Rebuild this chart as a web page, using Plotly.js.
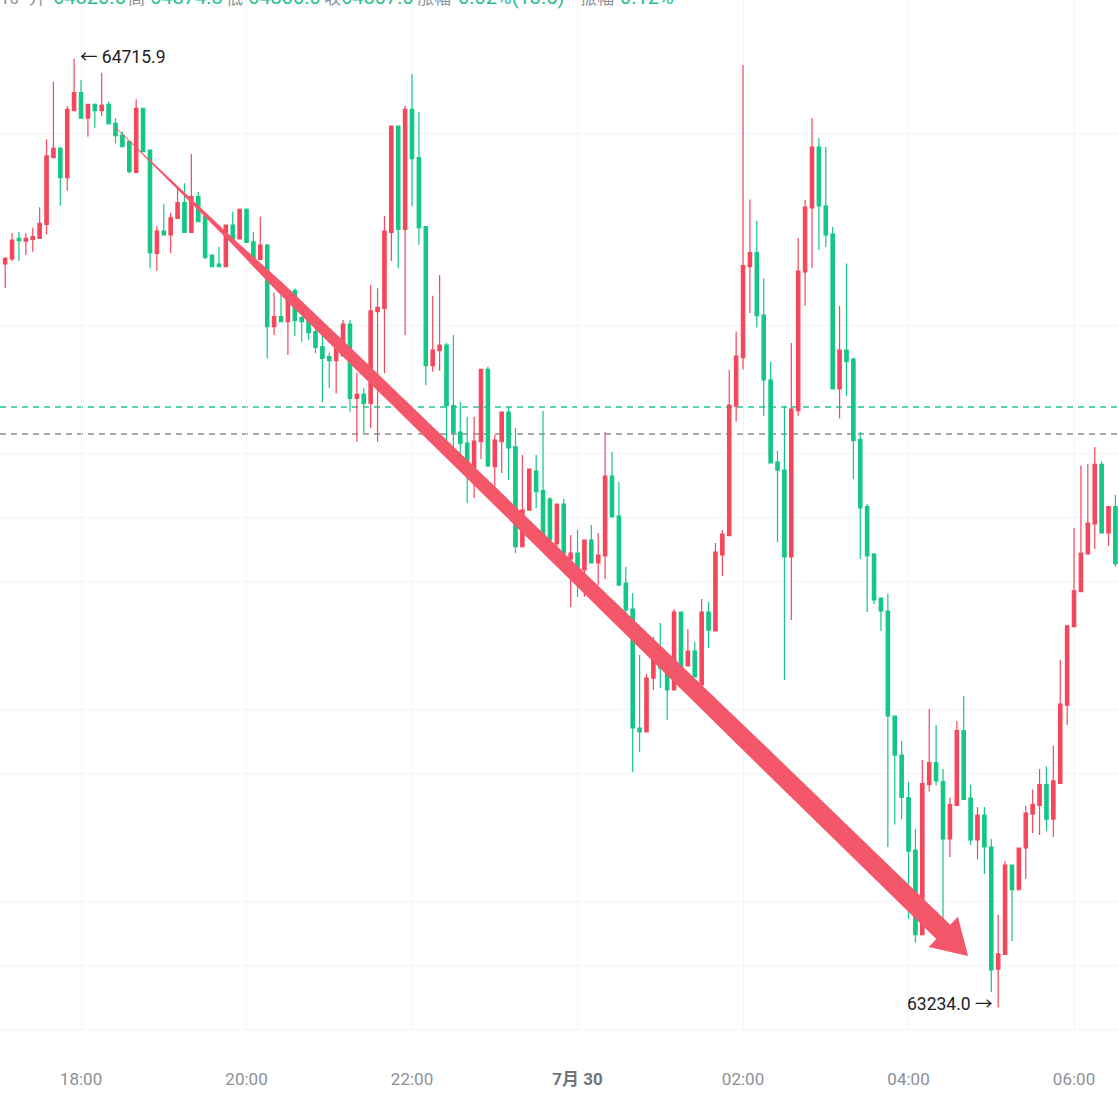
<!DOCTYPE html>
<html><head><meta charset="utf-8">
<script src="https://cdn.plot.ly/plotly-3.0.1.min.js"></script>
<style>html,body{margin:0;padding:0;background:#fff;overflow:hidden}#chart{width:1119px;height:1095px}</style>
</head><body><div id="chart"></div>
<script>
// ---- data (5-minute candles, 17:05 -> 06:30) ----
const startTime = '2024-07-29 17:05';
const intervalMin = 5;
const open = [64395.3,64403.1,64435.5,64431.2,64433.9,64435.5,64457.3,64561.4,64576.1,64530.1,64634.8,
64663.0,64623.0,64644.8,64634.8,64644.8,64615.1,64596.9,64586.4,64538.6,64638.6,64573.4,64412.0,64446.9,64440.6,64466.7,64491.1,64444.8,64500.5,64469.2,64409.4,64395.3,64391.1,64456.2,64434.4,64480.8,64430.1,64402.6,64425.0,
64297.3,64313.0,64305.1,64353.6,64312.0,64306.2,64289.5,64266.1,64250.5,64244.2,64251.6,64301.6,64185.5,64191.7,64177.6,64320.8,64326.1,64444.8,64610.9,64449.5,64637.0,64561.4,64453.6,64236.4,64259.8,
64268.7,64173.9,64132.8,64115.6,64077.6,64117.6,64230.8,64078.6,64117.6,64164.1,64109.8,63953.6,64010.9,64071.9,64041.1,64028.1,63957.8,64020.3,63934.4,63943.7,63917.2,63964.1,63928.1,63939.1,64064.1,64001.6,
63896.9,63856.2,63670.3,63664.1,63748.4,63781.2,63764.1,63729.7,63851.6,63767.2,63790.6,63737.5,63851.6,63821.9,63940.6,63970.9,64173.4,64249.1,64391.1,64413.3,64315.6,64214.1,64085.9,64073.4,63937.5,64166.2,
64382.8,64482.8,64578.1,64485.9,64442.2,64200.0,64260.9,64246.9,64121.1,64016.1,63942.2,63873.4,63853.1,63689.1,63628.1,63561.7,63479.7,63347.5,63581.7,63616.4,63586.7,63496.9,63549.4,63666.1,63560.9,63495.3,
63534.4,63484.4,63293.7,63316.6,63456.2,63417.6,63482.8,63535.9,63549.4,63581.7,63528.1,63583.6,63706.2,63828.7,63883.4,63942.2,63989.1,64082.2,63975.0,64016.4];
const high = [64406.2,64443.7,64445.8,64443.3,64452.0,64483.9,64590.1,64680.1,64578.0,64642.2,64715.9,
64682.8,64644.8,64646.0,64694.2,64648.9,64623.0,64602.0,64587.0,64652.6,64639.5,64574.0,64454.7,64488.6,64475.5,64516.1,64521.4,64567.2,64508.3,64470.0,64410.0,64422.3,64456.2,64477.0,64480.8,64482.3,64445.8,64469.2,64426.6,
64350.5,64352.0,64346.9,64357.3,64312.5,64313.0,64315.6,64289.5,64256.7,64263.6,64307.8,64307.8,64225.5,64201.1,64362.5,64357.3,64470.8,64610.9,64611.5,64642.2,64691.7,64633.3,64454.0,64345.8,64378.1,
64271.9,64284.4,64180.1,64156.7,64156.7,64230.8,64234.8,64128.1,64164.1,64172.3,64139.1,64096.9,64075.0,64096.9,64165.6,64031.2,64020.3,64028.1,63971.9,63979.7,63964.1,63987.5,63975.0,64132.8,64101.6,64054.7,
63921.9,63881.2,63784.4,63754.7,63812.5,63834.4,63765.0,63856.2,63852.5,63825.0,63804.7,63871.9,63867.2,63959.4,63979.7,64229.7,64289.8,64706.2,64496.1,64462.8,64372.6,64242.2,64103.1,64173.4,64271.9,64435.9,
64495.3,64623.4,64592.2,64578.1,64453.1,64329.7,64396.1,64249.1,64133.4,64020.3,63943.7,63874.0,63880.3,63690.0,63650.0,63585.9,63512.5,63620.8,63700.0,63675.0,63606.2,63561.7,63681.2,63720.3,63581.7,63546.9,
63546.9,63496.9,63378.6,63462.5,63457.0,63482.8,63548.4,63574.2,63606.2,63610.1,63642.5,63776.6,63830.0,63982.8,64080.3,64083.4,64109.4,64086.6,64016.4,64034.4];
const low = [64357.3,64400.0,64400.5,64409.4,64414.5,64435.5,64441.7,64560.5,64486.4,64509.8,64634.8,
64623.0,64594.2,64608.3,64626.6,64614.1,64583.9,64578.6,64537.0,64538.6,64570.8,64388.6,64384.8,64440.6,64412.0,64466.7,64444.8,64444.8,64461.4,64402.6,64391.1,64391.1,64391.1,64434.4,64434.4,64429.2,64404.2,64402.6,64248.0,
64284.4,64305.1,64253.1,64282.8,64273.9,64276.6,64255.8,64179.2,64201.1,64193.3,64251.6,64164.5,64117.6,64130.8,64138.6,64117.6,64224.5,64400.0,64388.6,64284.4,64486.4,64425.0,64206.2,64227.0,64228.6,
64093.7,64100.0,64096.9,64021.4,64029.2,64090.6,64078.1,64047.3,64068.7,64057.8,63943.7,63953.6,64010.9,64014.1,63948.4,63956.2,63925.0,63943.7,63859.4,63875.0,63875.0,63928.1,63893.7,63903.1,64000.0,63893.7,
63823.4,63601.6,63632.8,63664.1,63729.7,63732.8,63682.8,63729.7,63765.6,63767.2,63750.0,63737.5,63795.3,63821.9,63907.8,63970.9,64148.9,64230.5,64318.7,64295.9,64158.3,64084.4,63960.9,63745.3,63839.1,64158.3,
64329.7,64389.1,64417.2,64421.9,64200.0,64153.9,64189.1,64059.4,63934.4,63851.6,63864.1,63821.9,63484.4,63519.5,63528.1,63372.3,63335.1,63347.5,63571.1,63580.5,63372.3,63468.7,63549.4,63558.7,63487.5,63465.6,
63442.2,63257.8,63234.0,63316.6,63337.5,63417.6,63434.4,63506.2,63503.1,63509.4,63500.0,63583.6,63675.0,63828.7,63883.4,63942.2,63950.0,63975.0,63954.7,63921.9];
const close = [64404.2,64432.8,64431.7,64435.5,64438.0,64458.9,64564.1,64576.1,64530.1,64637.0,64663.0,
64623.0,64644.8,64634.8,64643.7,64614.1,64595.8,64578.6,64539.5,64638.6,64570.8,64413.0,64446.9,64440.6,64467.6,64491.1,64444.8,64500.5,64461.4,64405.8,64391.1,64391.1,64456.2,64434.4,64480.8,64429.2,64404.2,64425.0,64297.3,
64313.0,64305.1,64346.9,64306.7,64305.1,64288.0,64265.1,64248.0,64244.2,64263.6,64301.6,64185.5,64191.7,64177.6,64322.3,64327.6,64446.9,64610.9,64449.5,64637.0,64559.8,64452.0,64236.4,64260.9,64268.7,
64173.9,64131.7,64115.1,64081.2,64118.7,64230.8,64079.7,64120.3,64164.1,64107.8,63953.6,64010.9,64075.0,64039.5,63964.1,63964.1,64020.3,63943.7,63943.7,63917.2,63964.1,63928.1,63940.6,64064.1,64000.0,63893.7,
63854.7,63670.3,63664.1,63748.4,63781.2,63764.1,63729.7,63851.6,63765.6,63790.6,63750.0,63851.6,63823.4,63945.3,63973.4,64175.0,64251.6,64393.0,64413.3,64314.5,64214.1,64084.4,64073.4,63937.5,64168.7,64384.4,
64484.4,64578.1,64485.9,64440.6,64200.0,64260.9,64242.8,64119.2,64014.1,63939.1,63870.3,63853.1,63689.1,63628.1,63561.7,63478.1,63347.5,63583.6,63616.4,63587.8,63496.9,63550.6,63666.1,63558.7,63495.3,63534.4,
63484.4,63292.2,63317.6,63456.2,63417.6,63482.8,63537.5,63550.6,63581.7,63528.1,63587.8,63707.8,63830.0,63884.7,63943.7,63990.6,64082.2,63975.0,64016.4,63927.0];

const tickTimes  = ['2024-07-29 18:00','2024-07-29 20:00','2024-07-29 22:00','2024-07-30 00:00','2024-07-30 02:00','2024-07-30 04:00','2024-07-30 06:00'];
const tickLabels = ['18:00','20:00','22:00','<b><span style="color:#6f747c">7月 30</span></b>','02:00','04:00','06:00'];
const gridPrices = [63200,63300,63400,63600,63700,63900,64000,64100,64300,64600];
const levelGreen = 64171.9;
const levelGray  = 64129.7;
const highMark = {time:'2024-07-29 17:55', price:64715.9, text:'← 64715.9'};
const lowMark  = {time:'2024-07-30 05:05', price:63234.0, text:'63234.0 →'};
const arrowTimes  = ['2024-07-29 18:24:40','2024-07-30 04:43:10'];
const arrowPrices = [64609.4, 63314.1];
const headerTexts = ['10','开','64820.5','高','64874.8','低','64800.0','收','64807.0','涨幅','0.02%(13.5)','振幅','0.12%'];
const headerIsValue = [0,0,1,0,1,0,1,0,1,0,1,0,1];

// ---- view / style ----
const xRange = ['2024-07-29 17:01:15','2024-07-30 06:32:36'];
const yRange = [63196.9, 64807.8];
const W = 1119, H = 1031;
const headerLeftPx = [-1,28,52,127,149,225,247,323,340,416,457,579,619];
const RED = '#f5475c', GREEN = '#13c784';
const FONT = 'Roboto, "Noto Sans CJK SC", sans-serif';

function fmt(ms){ return new Date(ms).toISOString().slice(0,19).replace('T',' '); }
function toMs(s){ s = s.replace(' ','T'); if (s.length === 16) s += ':00'; return Date.parse(s + 'Z'); }
const t0 = toMs(startTime);
const times = open.map((_, i) => fmt(t0 + i*intervalMin*60000));

// arrow geometry (tapered drawing), built in pixel space from data endpoints
const prof = { s:[0,0.03,0.085,0.14,0.17,0.195,0.29,0.5,0.76], w:[0.4,0.6,1.5,2.5,4,5,6,7.2,9.3], shaftEnd:10, headLen:34.6, headHalf:21 };
function arrowPath(){
  const x0 = toMs(xRange[0]), x1 = toMs(xRange[1]);
  const px = (t,p) => [ (toMs(t)-x0)/(x1-x0)*W, (yRange[1]-p)/(yRange[1]-yRange[0])*H ];
  const A = px(arrowTimes[0], arrowPrices[0]), B = px(arrowTimes[1], arrowPrices[1]);
  const dx = B[0]-A[0], dy = B[1]-A[1], L = Math.hypot(dx,dy);
  const ux = dx/L, uy = dy/L, nx = -uy, ny = ux;
  const base = L - prof.headLen;
  const ss = prof.s.map(s => s*L).concat([base]);
  const ws = prof.w.concat([prof.shaftEnd]);
  const left = [], right = [];
  ss.forEach((s,i) => { const cx=A[0]+ux*s, cy=A[1]+uy*s; left.push([cx+nx*ws[i], cy+ny*ws[i]]); right.push([cx-nx*ws[i], cy-ny*ws[i]]); });
  const bx = A[0]+ux*base, by = A[1]+uy*base;
  const pts = left.concat([[bx+nx*prof.headHalf, by+ny*prof.headHalf], B, [bx-nx*prof.headHalf, by-ny*prof.headHalf]], right.reverse());
  return 'M' + pts.map(p => (p[0]/W).toFixed(5) + ',' + (1-p[1]/H).toFixed(5)).join('L') + 'Z';
}

const trace = {
  type:'candlestick', x: times, open, high, low, close,
  increasing:{line:{color:RED, width:1.2}, fillcolor:RED},
  decreasing:{line:{color:GREEN, width:1.2}, fillcolor:GREEN},
  whiskerwidth:0, hoverinfo:'skip', showlegend:false
};

const annotations = [
  {x:highMark.time, y:highMark.price, xref:'x', yref:'y', text:highMark.text, showarrow:false, xanchor:'left', yanchor:'middle', xshift:4, yshift:2, font:{family:FONT, size:17.5, color:'#1e2026'}},
  {x:lowMark.time, y:lowMark.price, xref:'x', yref:'y', text:lowMark.text, showarrow:false, xanchor:'right', yanchor:'middle', xshift:-4, yshift:3, font:{family:FONT, size:17.5, color:'#1e2026'}}
];
headerTexts.forEach((t,i) => annotations.push({
  x: headerLeftPx[i]/W, y:1, xref:'paper', yref:'paper', text:t, showarrow:false, xanchor:'left', yanchor:'middle',
  yshift: headerIsValue[i] ? 3 : 2.5, borderpad:0,
  font:{family:FONT, size: headerIsValue[i] ? 20 : 17, color: headerIsValue[i] ? '#25c08b' : '#8d9199'}
}));

const layout = {
  width:1119, height:1095, margin:{l:0, r:0, t:0, b:64},
  paper_bgcolor:'#fff', plot_bgcolor:'#fff', showlegend:false, dragmode:false,
  xaxis:{type:'date', range:xRange, tickmode:'array', tickvals:tickTimes, ticktext:tickLabels,
    showgrid:true, gridcolor:'#f3f4f6', gridwidth:1, zeroline:false, showline:false, ticks:'',
    tickfont:{family:FONT, size:17, color:'#8b9098'}, ticklabelstandoff:36, rangeslider:{visible:false}, fixedrange:true},
  yaxis:{range:yRange, tickmode:'array', tickvals:gridPrices, showticklabels:false, showgrid:true, gridcolor:'#f3f4f6',
    gridwidth:1, zeroline:false, ticks:'', fixedrange:true},
  shapes:[
    {type:'line', xref:'paper', x0:0, x1:1, yref:'y', y0:levelGreen, y1:levelGreen, layer:'below', line:{color:'#22c49c', width:1.3, dash:'6px,5px'}},
    {type:'line', xref:'paper', x0:0, x1:1, yref:'y', y0:levelGray, y1:levelGray, layer:'below', line:{color:'#8e8e8e', width:1.3, dash:'6px,5px'}},
    {type:'path', xref:'paper', yref:'paper', path:arrowPath(), fillcolor:'#f4566a', line:{width:0}, layer:'above'}
  ],
  annotations
};

Plotly.newPlot('chart', [trace], layout, {staticPlot:true, displayModeBar:false});
</script></body></html>
